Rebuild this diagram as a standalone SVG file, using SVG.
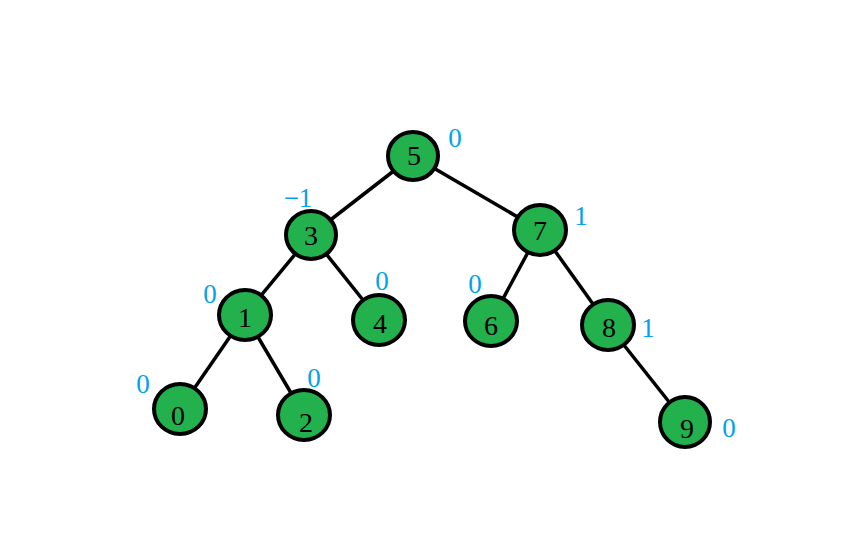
<svg xmlns="http://www.w3.org/2000/svg" width="849" height="539" viewBox="0 0 849 539">
<style>
.edge{stroke:#000;stroke-width:3.5;fill:none}
.node ellipse{fill:#22b14c;stroke:#000;stroke-width:4}
.num{font-family:"Liberation Serif","DejaVu Serif",serif;font-size:28px;fill:#000;text-anchor:middle}
.bal{font-family:"Liberation Serif","DejaVu Serif",serif;font-size:27px;fill:#00a2e8;text-anchor:middle}
</style>
<rect width="849" height="539" fill="#fff"/>
<g id="connectors">
<line class="edge" x1="413" y1="156" x2="311" y2="235"/>
<line class="edge" x1="413" y1="156" x2="540" y2="230"/>
<line class="edge" x1="311" y1="235" x2="245" y2="315"/>
<line class="edge" x1="311" y1="235" x2="379" y2="320"/>
<line class="edge" x1="540" y1="230" x2="491" y2="321"/>
<line class="edge" x1="540" y1="230" x2="608" y2="325"/>
<line class="edge" x1="245" y1="315" x2="180" y2="409"/>
<line class="edge" x1="245" y1="315" x2="304" y2="415"/>
<line class="edge" x1="608" y1="325" x2="685" y2="422"/>
</g>
<g id="n5" class="node"><ellipse cx="413" cy="156" rx="25" ry="24"/><text class="num" x="414" y="165">5</text><text class="bal" x="455" y="147">0</text></g>
<g id="n3" class="node"><ellipse cx="311" cy="235" rx="25" ry="24"/><text class="num" x="311" y="245">3</text><text class="bal" x="298" y="207">−1</text></g>
<g id="n7" class="node"><ellipse cx="540" cy="230" rx="26" ry="25"/><text class="num" x="540" y="240">7</text><text class="bal" x="581" y="225">1</text></g>
<g id="n1" class="node"><ellipse cx="245" cy="315" rx="26" ry="25"/><text class="num" x="245" y="327">1</text><text class="bal" x="210" y="303">0</text></g>
<g id="n4" class="node"><ellipse cx="379" cy="320" rx="26" ry="25"/><text class="num" x="380" y="333">4</text><text class="bal" x="382" y="290">0</text></g>
<g id="n6" class="node"><ellipse cx="491" cy="321" rx="26" ry="25"/><text class="num" x="491" y="335">6</text><text class="bal" x="475" y="293">0</text></g>
<g id="n8" class="node"><ellipse cx="608" cy="325" rx="26" ry="25"/><text class="num" x="609" y="337">8</text><text class="bal" x="648" y="337">1</text></g>
<g id="n0" class="node"><ellipse cx="180" cy="409" rx="26" ry="25"/><text class="num" x="178" y="425">0</text><text class="bal" x="143" y="393">0</text></g>
<g id="n2" class="node"><ellipse cx="304" cy="415" rx="26" ry="25"/><text class="num" x="306" y="432">2</text><text class="bal" x="314" y="387">0</text></g>
<g id="n9" class="node"><ellipse cx="685" cy="422" rx="25" ry="25"/><text class="num" x="687" y="438">9</text><text class="bal" x="729" y="437">0</text></g>
</svg>
